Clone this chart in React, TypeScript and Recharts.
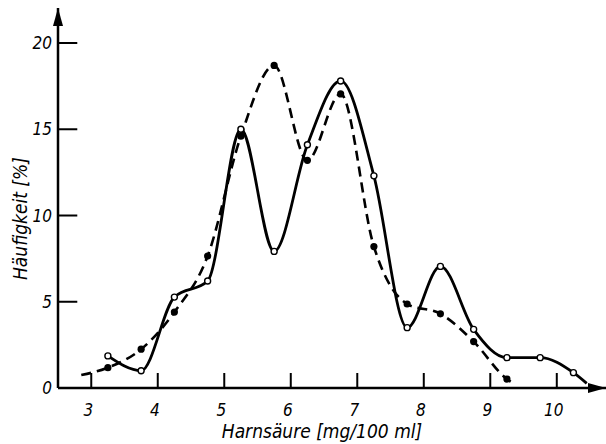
import React from 'react';
import { LineChart, Line, XAxis, YAxis, ReferenceLine, ReferenceDot } from 'recharts';

// Harnsäure class midpoints [mg/100 ml]
const solidX = [3.25, 3.75, 4.25, 4.75, 5.25, 5.75, 6.25, 6.75, 7.25, 7.75, 8.25, 8.75, 9.25, 9.75, 10.25, 10.45];
const solidY = [1.86, 1.0, 5.27, 6.2, 15.0, 7.92, 14.1, 17.8, 12.3, 3.5, 7.05, 3.4, 1.76, 1.76, 0.89, 0.27];
const solidNoDot = [15];

const dashedX = [2.85, 3.25, 3.75, 4.25, 4.75, 5.25, 5.75, 6.25, 6.75, 7.25, 7.75, 8.25, 8.75, 9.25, 9.38];
const dashedY = [0.75, 1.18, 2.25, 4.4, 7.65, 14.6, 18.7, 13.2, 17.05, 8.2, 4.87, 4.3, 2.69, 0.52, 0.2];
const dashedNoDot = [0, 14];

const xTicks = [3, 4, 5, 6, 7, 8, 9, 10];
const yTicks = [0, 5, 10, 15, 20];

const X_MIN = 2.5;
const X_MAX = 10.74;
const Y_MAX = 22.03;

const FONT = '"DejaVu Sans Condensed", "Liberation Sans Narrow", "DejaVu Sans", sans-serif';

const solidData = solidX.map((x, i) => ({ x, y: solidY[i] }));
const dashedData = dashedX.map((x, i) => ({ x, y: dashedY[i] }));

const openDot = (props: any) => {
  const { cx, cy, index } = props;
  if (solidNoDot.includes(index)) return <g key={`s${index}`} />;
  return <circle key={`s${index}`} cx={cx} cy={cy} r={3} fill="#fff" stroke="#000" strokeWidth={1.4} />;
};

const filledDot = (props: any) => {
  const { cx, cy, index } = props;
  if (dashedNoDot.includes(index)) return <g key={`d${index}`} />;
  return <circle key={`d${index}`} cx={cx} cy={cy} r={3.6} fill="#000" stroke="none" />;
};

const UpArrow = (props: any) => {
  const { cx, cy } = props;
  return <polygon points={`${cx},${cy} ${cx - 5},${cy + 18} ${cx + 5},${cy + 18}`} fill="#000" />;
};

const RightArrow = (props: any) => {
  const { cx, cy } = props;
  return <polygon points={`${cx},${cy} ${cx - 18},${cy - 5} ${cx - 18},${cy + 5}`} fill="#000" />;
};

const tickStyle = { fill: '#000', fontSize: 17, fontStyle: 'italic', fontFamily: FONT };
const titleStyle = { fill: '#000', fontSize: 19, fontStyle: 'italic', fontFamily: FONT };

const App: React.FC = () => {
  return (
    <div style={{ position: 'absolute', left: 0, top: 0, background: '#fff' }}>
      <LineChart width={606} height={444} margin={{ top: 8, right: 0, bottom: 0, left: 0 }}>
        <XAxis
          type="number"
          dataKey="x"
          domain={[X_MIN, X_MAX]}
          ticks={xTicks}
          allowDataOverflow
          height={56}
          tickSize={0}
          tickMargin={16}
          tick={{ ...tickStyle, dx: -3 }}
          axisLine={{ stroke: '#000', strokeWidth: 2.5 }}
          label={{
            value: 'Harnsäure [mg/100 ml]',
            position: 'insideBottom',
            offset: 6,
            dx: -10,
            style: titleStyle,
          }}
        />
        <YAxis
          type="number"
          domain={[0, Y_MAX]}
          ticks={yTicks}
          allowDataOverflow
          width={58}
          tickSize={0}
          tickMargin={6}
          tick={tickStyle}
          axisLine={{ stroke: '#000', strokeWidth: 2.5 }}
          label={{
            value: 'Häufigkeit [%]',
            angle: -90,
            position: 'insideLeft',
            offset: 20,
            dy: 82,
            style: titleStyle,
          }}
        />
        {xTicks.map((t) => (
          <ReferenceLine
            key={`xt${t}`}
            segment={[{ x: t, y: 0 }, { x: t, y: 0.87 }]}
            stroke="#000"
            strokeWidth={2}
          />
        ))}
        {yTicks.filter((t) => t > 0).map((t) => (
          <ReferenceLine
            key={`yt${t}`}
            segment={[{ x: X_MIN, y: t }, { x: X_MIN + 0.29, y: t }]}
            stroke="#000"
            strokeWidth={2}
          />
        ))}
        <ReferenceDot x={X_MIN} y={Y_MAX} shape={UpArrow} ifOverflow="visible" />
        <ReferenceDot x={X_MAX} y={0} shape={RightArrow} ifOverflow="visible" />
        <Line
          data={dashedData}
          dataKey="y"
          type="monotone"
          stroke="#000"
          strokeWidth={2.6}
          strokeDasharray="10 6"
          dot={filledDot}
          activeDot={false}
          isAnimationActive={false}
        />
        <Line
          data={solidData}
          dataKey="y"
          type="monotone"
          stroke="#000"
          strokeWidth={2.8}
          dot={openDot}
          activeDot={false}
          isAnimationActive={false}
        />
      </LineChart>
    </div>
  );
};

export default App;
